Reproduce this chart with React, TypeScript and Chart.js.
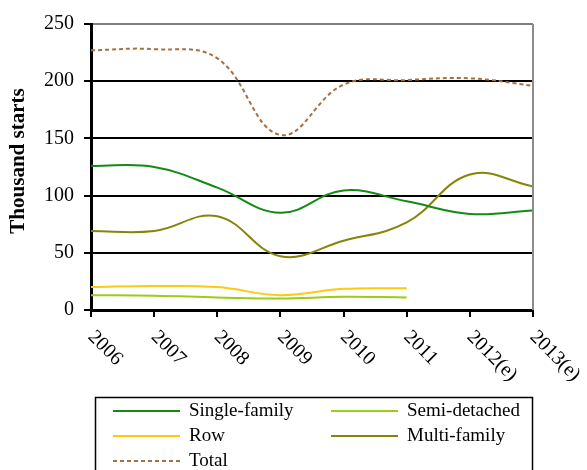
import React, { useEffect, useRef } from "react";
import { Chart, registerables } from "chart.js";

Chart.register(...registerables);

const years = ["2006", "2007", "2008", "2009", "2010", "2011", "2012(e)", "2013(e)"];
const singleFamily = [126, 125, 107, 85, 104.5, 95, 84, 87];
const semiDetached = [13, 12.5, 11, 10, 11.5, 11, null, null];
const row = [20, 21, 20, 13, 18.5, 19, null, null];
const multiFamily = [69, 69, 82, 47, 60.5, 76.5, 118.5, 108];
const total = [227, 228, 220, 153, 197, 201, 202.5, 196];
const yTicks = [0, 50, 100, 150, 200, 250];

const FONT = "'Liberation Serif', 'Times New Roman', serif";

export default function App() {
  const ref = useRef<HTMLCanvasElement | null>(null);
  useEffect(() => {
    document.body.style.margin = "0";
    const canvas = ref.current!;
    const overlay = {
      id: "overlay",
      afterDraw(chart: any) {
        const ctx = chart.ctx;
        const ca = chart.chartArea;
        const xs = chart.scales.x;
        ctx.save();
        // right border
        ctx.strokeStyle = "#8c8c8c";
        ctx.lineWidth = 2;
        ctx.beginPath();
        ctx.moveTo(ca.right, ca.top);
        ctx.lineTo(ca.right, ca.bottom);
        ctx.stroke();
        // y title
        ctx.fillStyle = "#000";
        ctx.font = `bold 21px ${FONT}`;
        ctx.textAlign = "center";
        ctx.textBaseline = "middle";
        ctx.save();
        ctx.translate(19, 161);
        ctx.rotate(-Math.PI / 2);
        ctx.fillText("Thousand starts", 0, 0);
        ctx.restore();
        // x labels rotated
        ctx.font = `20px ${FONT}`;
        ctx.textAlign = "left";
        ctx.textBaseline = "middle";
        years.forEach((lab, i) => {
          const x = xs.getPixelForTick(i);
          ctx.save();
          ctx.translate(x, ca.bottom + 24);
          ctx.rotate(Math.PI / 4);
          ctx.fillText(lab, 0, 0);
          ctx.restore();
        });
        // legend
        ctx.strokeStyle = "#000";
        ctx.lineWidth = 1.5;
        ctx.strokeRect(95.5, 397.5, 437, 90);
        const ds = chart.data.datasets;
        const pos = [
          [113, 411],
          [331, 411],
          [113, 436],
          [331, 436],
          [113, 461],
        ];
        ctx.font = `19px ${FONT}`;
        ctx.textBaseline = "middle";
        ds.forEach((d: any, i: number) => {
          const [lx, ly] = pos[i];
          ctx.save();
          ctx.strokeStyle = d.borderColor;
          ctx.lineWidth = 2;
          ctx.setLineDash(d.borderDash || []);
          ctx.beginPath();
          ctx.moveTo(lx, ly);
          ctx.lineTo(lx + 67, ly);
          ctx.stroke();
          ctx.restore();
          ctx.fillStyle = "#000";
          ctx.fillText(d.label, lx + 76, ly);
        });
        ctx.restore();
      },
    };
    const mk = (label: string, data: any[], color: string, dash?: number[]) => ({
      label,
      data,
      borderColor: color,
      backgroundColor: color,
      borderWidth: 2,
      borderDash: dash,
      pointRadius: 0,
      tension: 0.4,
      fill: false,
    });
    const chart = new Chart(canvas, {
      type: "line",
      data: {
        labels: years,
        datasets: [
          mk("Single-family", singleFamily, "#138a13"),
          mk("Semi-detached", semiDetached, "#9acd16"),
          mk("Row", row, "#ffc90e"),
          mk("Multi-family", multiFamily, "#85850a"),
          mk("Total", total, "#a86f3f", [4, 3]),
        ],
      },
      options: {
        responsive: false,
        animation: false,
        events: [],
        layout: { padding: { top: 24, right: 54, bottom: 0, left: 0 } },
        plugins: { legend: { display: false }, tooltip: { enabled: false } },
        scales: {
          x: {
            offset: false,
            afterFit: (s: any) => {
              s.height = 160;
            },
            ticks: { display: false },
            grid: {
              drawOnChartArea: false,
              drawTicks: true,
              tickLength: 7,
              color: "#000",
              lineWidth: 2,
            },
            border: { color: "#000", width: 3 },
          },
          y: {
            min: 0,
            max: 250,
            afterFit: (s: any) => {
              s.width = 91;
            },
            afterBuildTicks: (s: any) => {
              s.ticks = yTicks.map((v) => ({ value: v }));
            },
            ticks: {
              color: "#000",
              padding: 10,
              font: { family: FONT, size: 20 },
            },
            grid: {
              color: (c: any) => (c.tick && c.tick.value === 250 ? "#7f7f7f" : "#000"),
              tickColor: "#000",
              lineWidth: 2,
              tickLength: 7,
            },
            border: { color: "#000", width: 3 },
          },
        },
      },
      plugins: [overlay],
    });
    return () => chart.destroy();
  }, []);
  return (
    <div style={{ position: "fixed", left: 0, top: 0, width: 587, height: 470, background: "#fff" }}>
      <canvas ref={ref} width={587} height={470} />
    </div>
  );
}
